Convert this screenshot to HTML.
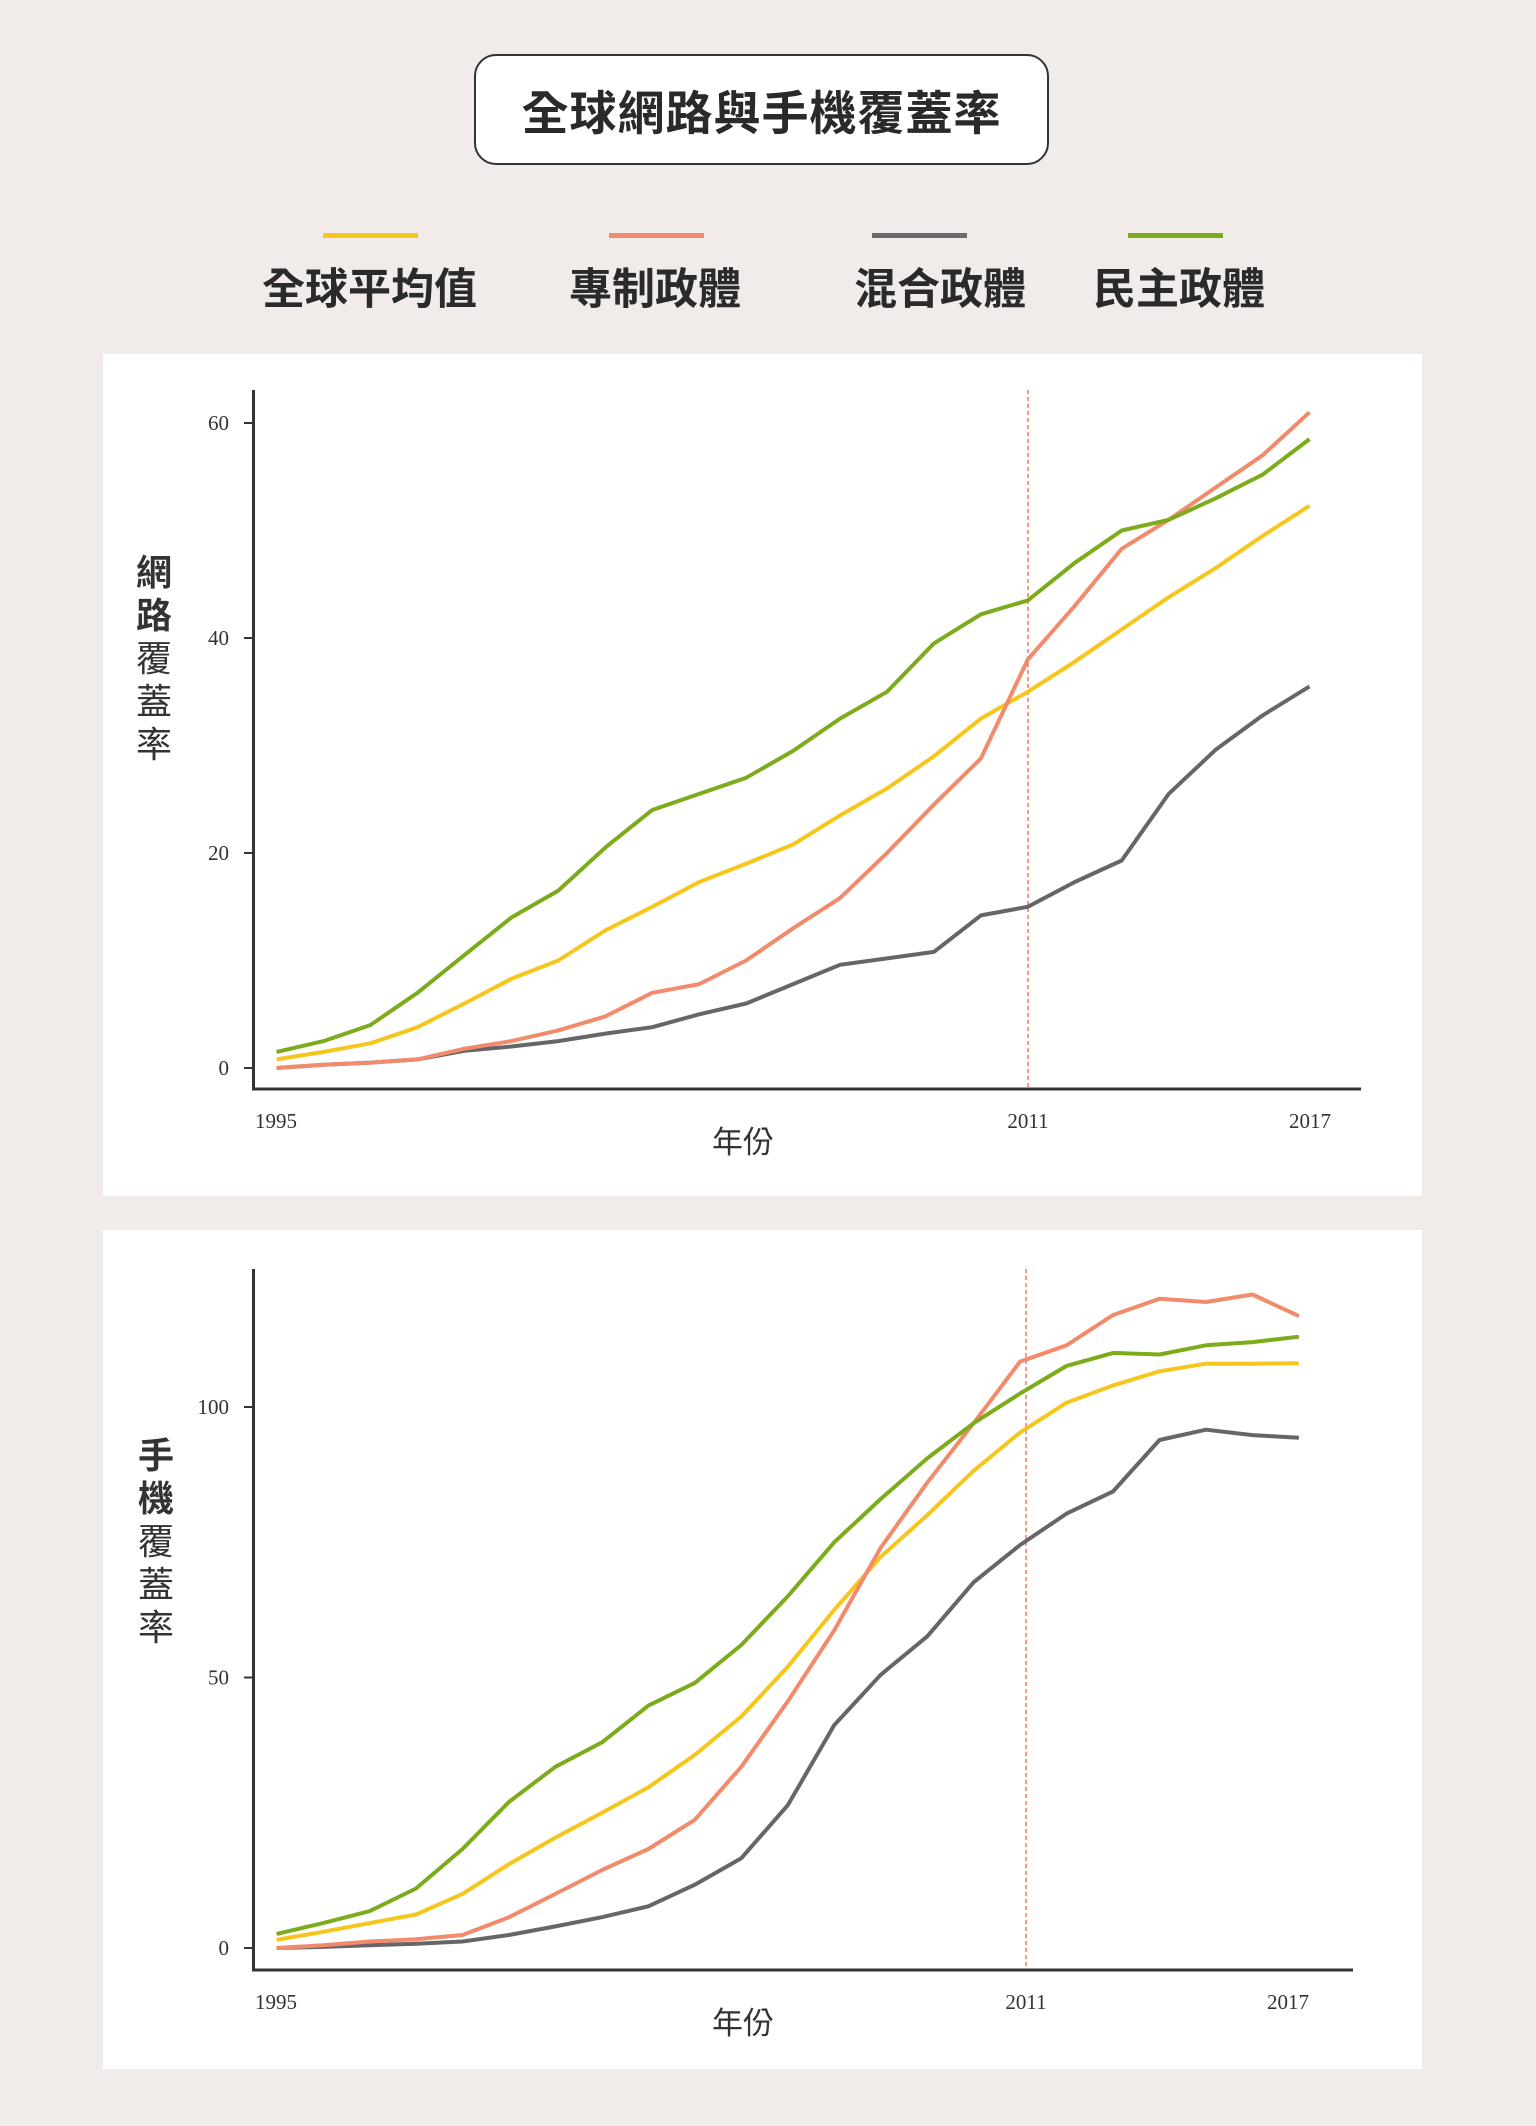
<!DOCTYPE html>
<html><head><meta charset="utf-8">
<style>
html,body{margin:0;padding:0;background:#f1ecea;}
body{width:1536px;height:2126px;position:relative;overflow:hidden;font-family:"Liberation Sans","Noto Sans CJK TC",sans-serif;}
.title{position:absolute;left:474px;top:54px;width:575px;height:111px;border:2px solid #333;border-radius:22px;box-sizing:border-box;background:#fff;display:flex;align-items:center;justify-content:center;font-size:47px;font-weight:bold;color:#2a2a2a;letter-spacing:1px;}
.lg{position:absolute;top:233px;height:5px;width:95px;}
.lt{position:absolute;top:255px;font-size:43px;font-weight:bold;color:#2a2a2a;white-space:nowrap;}
.panel{position:absolute;left:103px;width:1319px;background:#fff;}
svg{position:absolute;left:0;top:0;}
</style></head><body>
<div class="title">全球網路與手機覆蓋率</div>
<div class="lg" style="left:323px;background:#f6c61c"></div>
<div class="lg" style="left:609px;background:#f28b6c"></div>
<div class="lg" style="left:872px;background:#6b6b6b"></div>
<div class="lg" style="left:1128px;background:#7cab1b"></div>
<div class="lt" style="left:262px">全球平均值</div>
<div class="lt" style="left:569px">專制政體</div>
<div class="lt" style="left:854px">混合政體</div>
<div class="lt" style="left:1093px">民主政體</div>
<div class="panel" style="top:354px;height:842px"></div>
<div class="panel" style="top:1230px;height:839px"></div>
<svg width="1536" height="2126" id="s" font-family="Liberation Serif, serif"></svg>
<script>
var s=document.getElementById('s'),h='';
function ln(x1,y1,x2,y2,c,w,d){h+='<line x1="'+x1+'" y1="'+y1+'" x2="'+x2+'" y2="'+y2+'" stroke="'+c+'" stroke-width="'+w+'"'+(d?' stroke-dasharray="'+d+'"':'')+'/>';}
function tx(x,y,t,sz,a,f,wt){h+='<text x="'+x+'" y="'+y+'" font-size="'+sz+'" text-anchor="'+(a||'start')+'" fill="#333"'+(f?' font-family="'+f+'"':'')+(wt?' font-weight="bold"':'')+'>'+t+'</text>';}
function pl(d,x0,dx,y0,k,c){var p=d.map(function(v,i){return (x0+i*dx).toFixed(1)+','+(y0-v*k).toFixed(1)}).join(' ');h+='<polyline points="'+p+'" fill="none" stroke="'+c+'" stroke-width="4" stroke-linejoin="round"/>';}
var cj='Liberation Sans, Noto Sans CJK TC, sans-serif';
var Y0=1068,K1=215/20,X0=276.6,DX=46.95;
ln(253.5,390,253.5,1090,'#333',3);ln(252,1089,1361,1089,'#333',3);
[0,20,40,60].forEach(function(v){var y=Y0-v*K1;ln(244,y,253,y,'#333',2);tx(229,y+7,v,21,'end');});
ln(1028,390,1028,1087,'#f07a5a',1.5,'4,3');
tx(276,1128,'1995',21,'middle');tx(1028,1128,'2011',21,'middle');tx(1310,1128,'2017',21,'middle');
tx(743,1153,'年份',31,'middle',cj);
var G1=[1.5,2.5,4,7,10.5,14,16.5,20.5,24,25.5,27,29.5,32.5,35,39.5,42.2,43.5,47,50,51,53,55.2,58.5];
var Yl1=[0.8,1.5,2.3,3.8,6,8.3,10,12.8,15,17.3,19,20.8,23.5,26,29,32.5,35,37.8,40.8,43.8,46.5,49.5,52.3];
var O1=[0,0.3,0.5,0.8,1.8,2.5,3.5,4.8,7,7.8,10,13,15.8,20,24.5,28.8,38,43,48.3,51,54,57,61];
var Gr1=[0,0.3,0.5,0.8,1.6,2,2.5,3.2,3.8,5,6,7.8,9.6,10.2,10.8,14.2,15,17.3,19.3,25.5,29.6,32.8,35.5];
pl(Gr1,X0,DX,Y0,K1,'#666');pl(Yl1,X0,DX,Y0,K1,'#f6c61c');pl(O1,X0,DX,Y0,K1,'#f28b6c');pl(G1,X0,DX,Y0,K1,'#7cab1b');
['網','路','覆','蓋','率'].forEach(function(c,i){tx(154,585+i*43,c,36,'middle',cj,i<2);});
var Y2=1948,K2=270.5/50,X2=276.6,DX2=46.47;
ln(253.5,1269,253.5,1971,'#333',3);ln(252,1970,1353,1970,'#333',3);
[0,50,100].forEach(function(v){var y=Y2-v*K2;ln(244,y,253,y,'#333',2);tx(229,y+7,v,21,'end');});
ln(1026,1269,1026,1967,'#f07a5a',1.5,'4,3');
tx(276,2009,'1995',21,'middle');tx(1026,2009,'2011',21,'middle');tx(1288,2009,'2017',21,'middle');
tx(743,2034,'年份',31,'middle',cj);
var G2=[2.6,4.6,6.8,11,18.3,27,33.5,38,44.8,49,56,65,75,83,90.5,97,102.5,107.6,110,109.7,111.4,112,113];
var Yl2=[1.5,3,4.6,6.2,10,15.5,20.4,25,29.7,35.7,42.8,52,62.5,72.3,80,88.2,95.3,100.8,104,106.6,108,108,108.1];
var O2=[0,0.5,1.2,1.6,2.4,5.7,10,14.4,18.3,23.7,33.5,45.6,58.7,74,86,97,108.4,111.4,117,120,119.4,120.8,116.8];
var Gr2=[0,0.2,0.5,0.8,1.2,2.4,4,5.7,7.7,11.7,16.6,26.4,41.2,50.5,57.6,67.6,74.5,80.3,84.4,93.9,95.8,94.8,94.3];
pl(Gr2,X2,DX2,Y2,K2,'#666');pl(Yl2,X2,DX2,Y2,K2,'#f6c61c');pl(O2,X2,DX2,Y2,K2,'#f28b6c');pl(G2,X2,DX2,Y2,K2,'#7cab1b');
['手','機','覆','蓋','率'].forEach(function(c,i){tx(156,1468+i*43,c,36,'middle',cj,i<2);});
s.innerHTML=h;
</script>
</body></html>
